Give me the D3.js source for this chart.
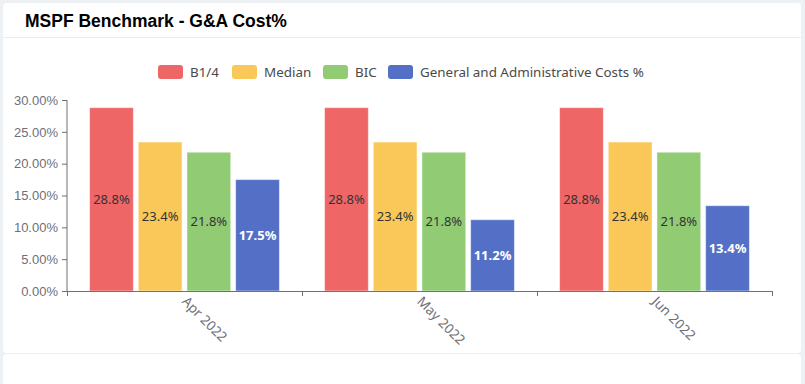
<!DOCTYPE html>
<html>
<head>
<meta charset="utf-8">
<script src="https://cdn.jsdelivr.net/npm/d3@7"></script>
<style>
  html, body { margin: 0; padding: 0; background: #eef1f3; }
  svg { display: block; font-family: "Noto Sans", "Open Sans", sans-serif; }
</style>
</head>
<body>
<svg id="chart" width="805" height="384"></svg>
<script>
// chart values
var months = ["Apr 2022", "May 2022", "Jun 2022"];
var seriesNames = ["B1/4", "Median", "BIC", "General and Administrative Costs %"];
var b14 = [28.8, 28.8, 28.8];
var median = [23.4, 23.4, 23.4];
var bic = [21.8, 21.8, 21.8];
var gaCosts = [17.5, 11.2, 13.4];
var yTicks = [0, 5, 10, 15, 20, 25, 30];

var colors = ["#ee6666", "#fac858", "#91cc75", "#5470c6"];
var labelColors = ["#333", "#333", "#333", "#fff"];

var svg = d3.select("svg#chart");

// cards
svg.append("rect").attr("x", 3).attr("y", 3).attr("width", 798).attr("height", 350)
  .attr("rx", 4).attr("fill", "#fff");
svg.append("rect").attr("x", 3).attr("y", 354).attr("width", 798).attr("height", 40)
  .attr("rx", 4).attr("fill", "#fff");
svg.append("line").attr("x1", 3).attr("x2", 801).attr("y1", 37.5).attr("y2", 37.5)
  .attr("stroke", "#ebebeb");

svg.append("text")
  .attr("x", 25).attr("y", 27)
  .style("font", "bold 17.5px 'Liberation Sans', Arial, sans-serif")
  .style("fill", "#000")
  .text("MSPF Benchmark - G&A Cost%");

var margin = {left: 67, right: 33, top: 100, bottom: 93};
var width = 805 - margin.left - margin.right,
  height = 384 - margin.top - margin.bottom;

var g = svg.append("g").attr("transform", "translate(" + margin.left + "," + margin.top + ")");

var x0 = d3.scaleBand().domain(months).range([0, width]).paddingInner(0).paddingOuter(0);
var x1 = d3.scaleBand().domain(d3.range(4)).range([x0.bandwidth() * 0.096, x0.bandwidth() * 0.904]).paddingInner(0.1);
var y = d3.scaleLinear().domain([0, 30]).range([height, 0]);

var data = [b14, median, bic, gaCosts];

// y axis
var yAxis = g.append("g")
  .call(d3.axisLeft(y).tickValues(yTicks).tickSize(5).tickPadding(4).tickFormat(function(d) { return d.toFixed(2) + "%"; }));
yAxis.select(".domain").attr("stroke", "#6e7079").attr("d", "M0," + (height + 0.5) + "V0");
yAxis.selectAll(".tick line").attr("stroke", "#6e7079");
yAxis.selectAll(".tick text").attr("fill", "#6e7079").style("font-size", "13px");

// bars
var groups = g.selectAll(".month")
  .data(months)
  .enter().append("g")
  .attr("class", "month")
  .attr("transform", function(d) { return "translate(" + x0(d) + ",0)"; });

groups.selectAll("rect")
  .data(function(d, i) { return data.map(function(s, k) { return {k: k, v: s[i]}; }); })
  .enter().append("rect")
  .attr("x", function(d) { return x1(d.k); })
  .attr("y", function(d) { return y(d.v); })
  .attr("width", x1.bandwidth())
  .attr("height", function(d) { return height - y(d.v); })
  .attr("fill", function(d) { return colors[d.k]; })
  .attr("stroke", "rgba(255,255,255,0.5)")
  .attr("stroke-width", 1);

groups.selectAll("text.lbl")
  .data(function(d, i) { return data.map(function(s, k) { return {k: k, v: s[i]}; }); })
  .enter().append("text")
  .attr("class", "lbl")
  .attr("x", function(d) { return x1(d.k) + x1.bandwidth() / 2; })
  .attr("y", function(d) { return (y(d.v) + height) / 2; })
  .attr("dy", "0.35em")
  .attr("text-anchor", "middle")
  .style("font-size", "13px")
  .style("font-weight", function(d) { return d.k === 3 ? "bold" : "normal"; })
  .attr("fill", function(d) { return labelColors[d.k]; })
  .text(function(d) { return d.v.toFixed(1) + "%"; });

// x axis
var xAxis = g.append("g")
  .attr("transform", "translate(0," + height + ")");
xAxis.append("path")
  .attr("d", "M0,0.5H" + width)
  .attr("stroke", "#6e7079").attr("fill", "none");
xAxis.selectAll("line.tk")
  .data([0].concat(months.map(function(m) { return x0(m) + x0.bandwidth(); })))
  .enter().append("line")
  .attr("x1", function(d) { return Math.round(d) + 0.5; })
  .attr("x2", function(d) { return Math.round(d) + 0.5; })
  .attr("y1", 0).attr("y2", 5)
  .attr("stroke", "#6e7079");
xAxis.selectAll("text.xl")
  .data(months)
  .enter().append("text")
  .attr("transform", function(d) { return "translate(" + (x0(d) + x0.bandwidth() / 2) + ",8) rotate(45)"; })
  .attr("dy", "0.35em")
  .attr("text-anchor", "start")
  .attr("fill", "#6e7079")
  .style("font-size", "13.5px")
  .text(function(d) { return d; });

// legend
var legendX = [158, 232, 323, 388];
var legend = svg.append("g").attr("transform", "translate(0,65)");
var items = legend.selectAll("g")
  .data(seriesNames)
  .enter().append("g")
  .attr("transform", function(d, i) { return "translate(" + legendX[i] + ",0)"; });
items.append("rect")
  .attr("width", 25).attr("height", 14).attr("rx", 3)
  .attr("fill", function(d, i) { return colors[i]; });
items.append("text")
  .attr("x", 32).attr("y", 7).attr("dy", "0.35em")
  .attr("fill", "#4a4a4a")
  .style("font-size", "13.4px")
  .text(function(d) { return d; });
</script>
</body>
</html>
